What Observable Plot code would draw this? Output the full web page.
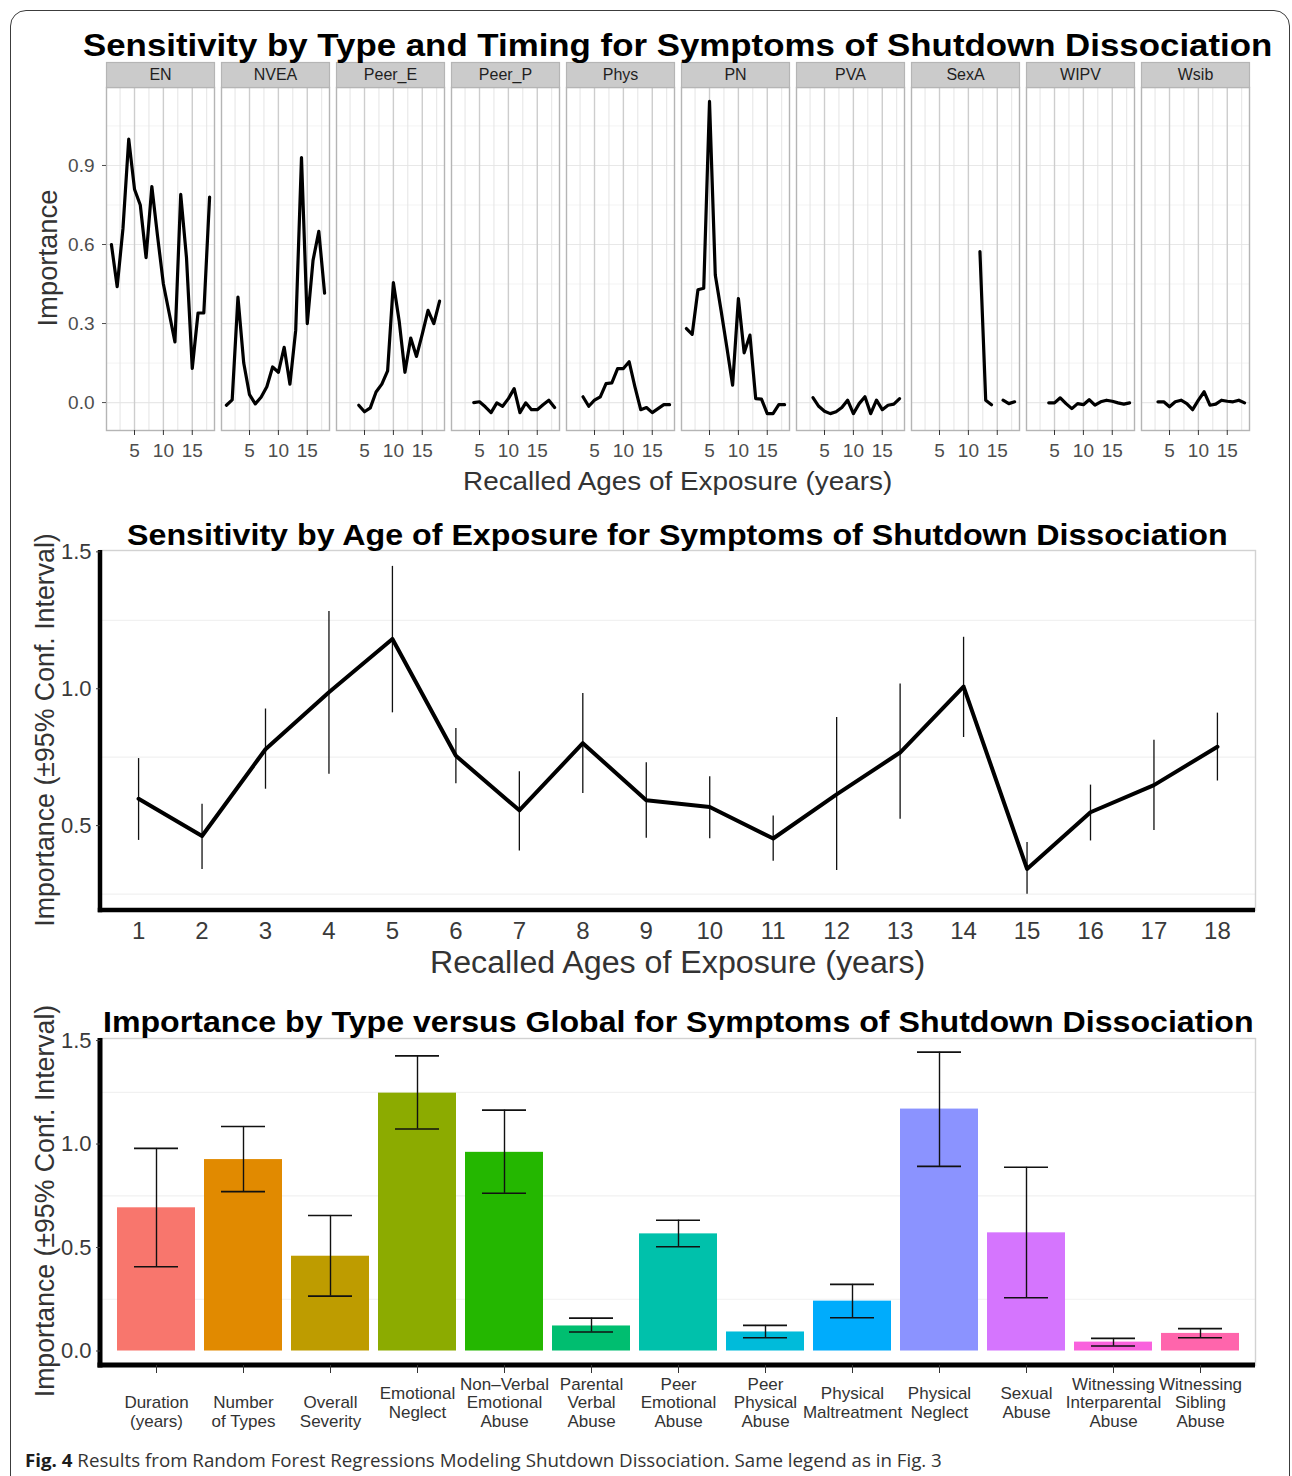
<!DOCTYPE html>
<html><head><meta charset="utf-8">
<script src="https://cdn.jsdelivr.net/npm/d3@7"></script>
<script src="https://cdn.jsdelivr.net/npm/@observablehq/plot@0.6"></script>
<style>
html,body{margin:0;padding:0;background:#fff;}
#fig{position:relative;width:1292px;height:1476px;overflow:hidden;background:#fff;font-family:"Liberation Sans",Arial,Helvetica,sans-serif;}
#border{position:absolute;left:10px;top:10px;width:1280px;height:1540px;border:1.5px solid #3c3c3c;border-radius:16px;box-sizing:border-box;}
.lbl{position:absolute;white-space:nowrap;line-height:1;display:inline-block;}
.chart{position:absolute;left:0;width:1292px;}
</style></head><body>
<div id="fig">
  <div id="border"></div>
  <div id="c1" class="chart" style="top:40px"></div>
  <div id="c2" class="chart" style="top:520px"></div>
  <div id="c3" class="chart" style="top:1010px"></div>
</div>
<script>
// ---------------- DATA ----------------
const types = ["EN","NVEA","Peer_E","Peer_P","Phys","PN","PVA","SexA","WIPV","Wsib"];
const ages = [1,2,3,4,5,6,7,8,9,10,11,12,13,14,15,16,17,18];

const EN     = [0.60,0.44,0.66,1.00,0.81,0.75,0.55,0.82,0.63,0.45,0.34,0.23,0.79,0.55,0.13,0.34,0.34,0.78];
const NVEA   = [-0.01,0.01,0.40,0.15,0.03,-0.005,0.02,0.06,0.135,0.115,0.21,0.07,0.275,0.93,0.30,0.54,0.65,0.415];
const Peer_E = [null,null,null,-0.01,-0.035,-0.02,0.04,0.07,0.12,0.455,0.31,0.115,0.245,0.175,0.26,0.35,0.30,0.385];
const Peer_P = [null,null,null,0.0,0.003,-0.016,-0.038,-0.001,-0.014,0.015,0.053,-0.038,-0.001,-0.027,-0.027,-0.008,0.009,-0.019];
const Phys   = [null,null,0.022,-0.014,0.009,0.022,0.072,0.075,0.129,0.129,0.155,0.06,-0.027,-0.019,-0.038,-0.023,-0.008,-0.008];
const PN     = [0.281,0.259,0.428,0.434,1.143,0.484,0.35,0.21,0.066,0.395,0.189,0.256,0.015,0.013,-0.042,-0.042,-0.008,-0.008];
const PVA    = [null,null,0.019,-0.014,-0.033,-0.042,-0.035,-0.019,0.009,-0.042,-0.004,0.022,-0.042,0.009,-0.027,-0.01,-0.006,0.015];
const SexA   = [null,null,null,null,null,null,null,null,null,null,null,0.573,0.009,-0.008,null,0.009,-0.004,0.003];
const WIPV   = [null,null,null,-0.001,-0.001,0.018,-0.004,-0.023,-0.004,-0.008,0.011,-0.010,0.003,0.009,0.005,-0.001,-0.006,-0.001];
const Wsib   = [null,null,0.003,0.003,-0.016,0.003,0.009,-0.004,-0.027,0.009,0.041,-0.010,-0.006,0.009,0.005,0.003,0.009,-0.001];
const typeSeries = [EN,NVEA,Peer_E,Peer_P,Phys,PN,PVA,SexA,WIPV,Wsib];

const topXTicks = [5,10,15];
const topXMinor = [2.5,7.5,12.5,17.5];
const topYTicks = [0,0.3,0.6,0.9];
const topYMinor = [0.15,0.45,0.75,1.05];

const ageValue = [0.598,0.462,0.779,0.987,1.182,0.755,0.556,0.801,0.593,0.568,0.453,0.614,0.767,1.008,0.342,0.549,0.648,0.788];
const ageLow   = [0.446,0.340,0.633,0.688,0.912,0.653,0.407,0.617,0.454,0.452,0.370,0.336,0.523,0.822,0.249,0.444,0.482,0.663];
const ageHigh  = [0.745,0.578,0.926,1.282,1.447,0.855,0.697,0.983,0.730,0.679,0.535,0.895,1.017,1.188,0.438,0.648,0.812,0.911];
const midYTicks = [0.5,1.0,1.5];
const midYMinor = [0.25,0.75,1.25];

const categories = ["\nDuration\n(years)","\nNumber\nof Types","\nOverall\nSeverity","Emotional\nNeglect",
  "Non\u2013Verbal\nEmotional\nAbuse","Parental\nVerbal\nAbuse","Peer\nEmotional\nAbuse","Peer\nPhysical\nAbuse",
  "Physical\nMaltreatment","Physical\nNeglect","Sexual\nAbuse","Witnessing\nInterparental\nAbuse","Witnessing\nSibling\nAbuse"];
const catValue = [0.692,0.925,0.458,1.246,0.960,0.121,0.566,0.092,0.241,1.169,0.571,0.043,0.085];
const catLow   = [0.407,0.770,0.265,1.073,0.762,0.092,0.504,0.064,0.161,0.892,0.257,0.024,0.064];
const catHigh  = [0.979,1.085,0.655,1.426,1.164,0.159,0.632,0.124,0.322,1.444,0.888,0.061,0.108];
const botYTicks = [0.0,0.5,1.0,1.5];
const botYMinor = [0.25,0.75,1.25];

const palette = ["#F8766D","#E18A00","#BE9C00","#8CAB00","#24B700","#00BE70","#00C1AB","#00BBDA","#00ACFC","#8B93FF","#D575FE","#F962DD","#FF65AC"];

// ---------------- TABLES ----------------
const typeRows = types.flatMap((t,i) => typeSeries[i].map((v,j) => ({type:t, age:ages[j], value:v})));
const ageRows = ages.map((a,i) => ({age:a, value:ageValue[i], lo:ageLow[i], hi:ageHigh[i]}));
const catRows = categories.map((c,i) => ({key:c, value:catValue[i], lo:catLow[i], hi:catHigh[i]}));

const FONT = "Liberation Sans, Arial, Helvetica, sans-serif";
const f1 = d3.format(".1f");

// thick left + bottom axis lines (ggplot axis.line)
function axisLines(w) {
  return (index, scales, values, dim) => {
    const g = d3.create("svg:g");
    const {marginLeft:l, marginTop:t, marginRight:r, marginBottom:b, width, height} = dim;
    g.append("line").attr("x1", l).attr("x2", l).attr("y1", t).attr("y2", height - b + w/2)
      .attr("stroke", "black").attr("stroke-width", w);
    g.append("line").attr("x1", l - w/2).attr("x2", width - r).attr("y1", height - b).attr("y2", height - b)
      .attr("stroke", "black").attr("stroke-width", w);
    return g.node();
  };
}

// ---------------- TOP: faceted lines ----------------
const topH = 440, topMT = 47, topMB = 50;
const topChart = Plot.plot({
  width: 1292, height: topH,
  marginLeft: 105, marginRight: 42, marginTop: topMT, marginBottom: topMB,
  style: {fontFamily: FONT, fontSize: "19px", color: "#4d4d4d", background: "transparent", overflow: "visible"},
  fx: {domain: types, paddingInner: 0.057, paddingOuter: 0, axis: null, label: null},
  x: {domain: [0.15, 18.85]},
  y: {domain: [-0.106, 1.196]},
  marks: [
    Plot.frame({fill: "white"}),
    Plot.ruleY(topYMinor, {stroke: "#f3f3f3", strokeWidth: 1}),
    Plot.ruleY(topYTicks, {stroke: "#e8e8e8", strokeWidth: 1.2}),
    Plot.ruleX(topXMinor, {stroke: "#e4e4e4", strokeWidth: 1}),
    Plot.ruleX(topXTicks, {stroke: "#cdcdcd", strokeWidth: 1.4}),
    Plot.frame({stroke: "#b5b5b5", strokeWidth: 1.4}),
    Plot.frame({fill: "#cbcbcb", stroke: "#b5b5b5", strokeWidth: 1.2, insetTop: -25, insetBottom: topH - topMT - topMB}),
    Plot.text(types, {fx: d => d, text: d => d, frameAnchor: "top", dy: -12.5, lineAnchor: "middle", fill: "#1f1f1f", fontSize: 16}),
    Plot.axisY({ticks: topYTicks, tickFormat: f1, tickSize: 4, tickPadding: 8, label: null, fontSize: 19}),
    Plot.axisX({ticks: topXTicks, tickSize: 5, tickPadding: 8, label: null, fontSize: 19, stroke: "#333"}),
    Plot.line(typeRows, {fx: "type", x: "age", y: "value", z: "type", stroke: "black", strokeWidth: 3.2})
  ]
});
document.getElementById("c1").appendChild(topChart);

// ---------------- MIDDLE: by age ----------------
const midChart = Plot.plot({
  width: 1292, height: 440,
  marginLeft: 100, marginRight: 37, marginTop: 30, marginBottom: 50,
  style: {fontFamily: FONT, fontSize: "22px", color: "#3a3a3a", background: "transparent", overflow: "visible"},
  x: {domain: [0.4, 18.6]},
  y: {domain: [0.19, 1.505]},
  marks: [
    Plot.ruleY(midYMinor, {stroke: "#f1f1f1", strokeWidth: 1.2}),
    Plot.frame({stroke: "#d2d2d2", strokeWidth: 1.4}),
    Plot.ruleX(ageRows, {x: "age", y1: "lo", y2: "hi", stroke: "#111", strokeWidth: 1.3}),
    Plot.line(ageRows, {x: "age", y: "value", stroke: "black", strokeWidth: 4}),
    axisLines(4.5),
    Plot.axisY({ticks: midYTicks, tickFormat: f1, tickSize: 4, tickPadding: 5, label: null, fontSize: 22}),
    Plot.axisX({ticks: ages, tickSize: 0, tickPadding: 11, label: null, fontSize: 24})
  ]
});
document.getElementById("c2").appendChild(midChart);

// ---------------- BOTTOM: bars ----------------
const botChart = Plot.plot({
  width: 1292, height: 440,
  marginLeft: 100, marginRight: 37, marginTop: 28, marginBottom: 85,
  style: {fontFamily: FONT, fontSize: "22px", color: "#3a3a3a", background: "transparent", overflow: "visible"},
  x: {type: "band", domain: categories, paddingInner: 0.109, paddingOuter: 0.155},
  y: {domain: [-0.07, 1.51]},
  color: {domain: categories, range: palette},
  marks: [
    Plot.ruleY(botYMinor, {stroke: "#f1f1f1", strokeWidth: 1.2}),
    Plot.frame({stroke: "#d2d2d2", strokeWidth: 1.4}),
    Plot.barY(catRows, {x: "key", y: "value", fill: "key"}),
    Plot.ruleX(catRows, {x: "key", y1: "lo", y2: "hi", stroke: "#111", strokeWidth: 1.4}),
    Plot.tickY(catRows, {x: "key", y: "lo", stroke: "#111", strokeWidth: 1.6, inset: 17}),
    Plot.tickY(catRows, {x: "key", y: "hi", stroke: "#111", strokeWidth: 1.6, inset: 17}),
    axisLines(5),
    Plot.axisY({ticks: botYTicks, tickFormat: f1, tickSize: 4, tickPadding: 5, label: null, fontSize: 22}),
    Plot.axisX({tickSize: 8, tickFormat: () => "", label: null, stroke: "#333"}),
    Plot.text(catRows, {x: "key", text: "key", frameAnchor: "bottom", dy: 37, lineAnchor: "middle",
      lineHeight: 1.1, fontSize: 17, fill: "#333"})
  ]
});
document.getElementById("c3").appendChild(botChart);

// ---------------- TEXT (titles, axis titles, caption) ----------------
const fig = document.getElementById("fig");
const labels = [
  {html: "Sensitivity by Type and Timing for Symptoms of Shutdown Dissociation", x: 83, cy: 45, size: 32, bold: true, color: "#000", w: 1189},
  {html: "Recalled Ages of Exposure (years)", x: 463, cy: 481, size: 26, color: "#333", w: 429},
  {html: "Importance", x: 48, cy: 258, size: 27, color: "#333", w: 137, rot: true},
  {html: "Sensitivity by Age of Exposure for Symptoms of Shutdown Dissociation", x: 127, cy: 535, size: 30, bold: true, color: "#000", w: 1101},
  {html: "Recalled Ages of Exposure (years)", x: 430, cy: 962, size: 31, color: "#333", w: 495},
  {html: "Importance (\u00b195% Conf. Interval)", x: 45, cy: 730, size: 27, color: "#333", w: 394, rot: true},
  {html: "Importance by Type versus Global for Symptoms of Shutdown Dissociation", x: 103, cy: 1022, size: 30, bold: true, color: "#000", w: 1151},
  {html: "Importance (\u00b195% Conf. Interval)", x: 45, cy: 1201, size: 27, color: "#333", w: 393, rot: true},
  {html: "<b style='color:#1c1c1c'>Fig. 4</b> Results from Random Forest Regressions Modeling Shutdown Dissociation. Same legend as in Fig. 3",
   x: 25, cy: 1460, size: 18, color: "#333", w: 917, font: "'Open Sans', 'Noto Sans', sans-serif"}
];
const els = labels.map(L => {
  const d = document.createElement("div");
  d.className = "lbl";
  d.innerHTML = L.html;
  d.style.fontSize = L.size + "px";
  d.style.fontWeight = L.bold ? "bold" : "normal";
  d.style.color = L.color;
  if (L.font) d.style.fontFamily = L.font;
  d.style.left = L.x + "px";
  d.style.top = L.cy + "px";
  fig.appendChild(d);
  return [d, L];
});
function fit() {
  for (const [d, L] of els) {
    const s = L.w / d.offsetWidth;
    if (L.rot) {
      d.style.transformOrigin = "50% 50%";
      d.style.transform = `translate(-50%,-50%) rotate(-90deg) scaleX(${s})`;
    } else {
      d.style.transformOrigin = "0 50%";
      d.style.transform = `translateY(-50%) scaleX(${s})`;
    }
  }
}
fit();
if (document.fonts && document.fonts.ready) document.fonts.ready.then(fit);
</script>
</body></html>
